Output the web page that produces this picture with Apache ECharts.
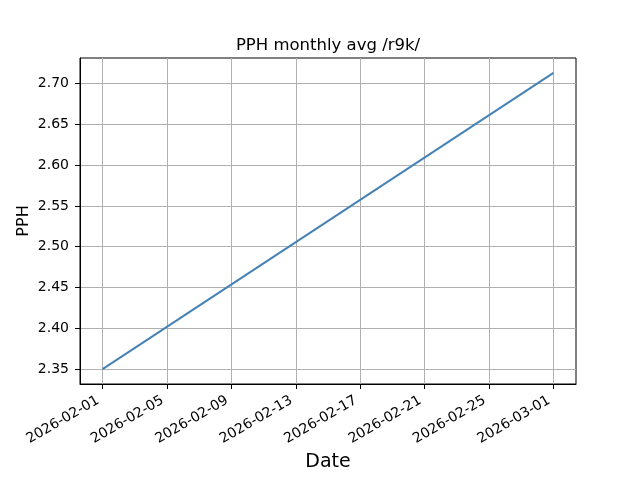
<!DOCTYPE html>
<html>
<head>
<meta charset="utf-8">
<script src="https://cdn.jsdelivr.net/npm/echarts@6/dist/echarts.min.js"></script>
<style>html,body{margin:0;padding:0;background:#fff}#c{width:640px;height:480px}</style>
</head>
<body>
<div id="c"></div>
<script>
const dates = ['2026-02-01', '2026-03-01'];
const pph = [2.3497, 2.7132];
const xTickDates = ['2026-02-01','2026-02-05','2026-02-09','2026-02-13','2026-02-17','2026-02-21','2026-02-25','2026-03-01'];
const yTicks = [2.35, 2.40, 2.45, 2.50, 2.55, 2.60, 2.65, 2.70];
const titleText = 'PPH monthly avg /r9k/';

function ts(s){ const p = s.split('-').map(Number); return Date.UTC(p[0], p[1]-1, p[2]); }
function fmt(v){ const d = new Date(v); const z = n => String(n).padStart(2,'0'); return d.getUTCFullYear()+'-'+z(d.getUTCMonth()+1)+'-'+z(d.getUTCDate()); }

const xs = dates.map(ts);
const xSpan = xs[xs.length-1] - xs[0];
const xMin = xs[0] - 0.05*xSpan, xMax = xs[xs.length-1] + 0.05*xSpan;
const yLo = Math.min(...pph), yHi = Math.max(...pph), ySpan = yHi - yLo;
const yMin = yLo - 0.05*ySpan, yMax = yHi + 0.05*ySpan;
const xTicks = xTickDates.map(ts);

const font = 'DejaVu Sans';
const titleSize = 16.5;
const cv = document.createElement('canvas').getContext('2d');
cv.font = titleSize + 'px "' + font + '"';
const titleW = cv.measureText(titleText).width;

const chart = echarts.init(document.getElementById('c'), null, {renderer:'canvas'});
chart.setOption({
  animation: false,
  backgroundColor: '#fff',
  title: {
    text: titleText,
    left: 328 - titleW/2 - 5, top: 32,
    textStyle: {fontFamily: font, fontSize: titleSize, fontWeight: 'normal', color: '#000'}
  },
  grid: {left: 80, right: 64, top: 58, bottom: 96, show: true, borderColor: '#000', borderWidth: 1, containLabel: false},
  xAxis: {
    type: 'value', min: xMin, max: xMax,
    name: 'Date', nameLocation: 'middle', nameGap: 67,
    nameTextStyle: {fontFamily: font, fontSize: 19, color: '#000'},
    axisLine: {show: true, onZero: false, lineStyle: {color: '#000', width: 1}},
    axisTick: {show: true, length: 5, inside: false, customValues: xTicks, lineStyle: {color: '#000'}},
    axisLabel: {customValues: xTicks, rotate: 30, margin: 13, padding: [0, 5, 0, 0], formatter: v => fmt(v),
      fontFamily: font, fontSize: 14, color: '#000'},
    splitLine: {show: true, lineStyle: {color: '#b0b0b0', width: 1}}
  },
  yAxis: {
    type: 'value', min: yMin, max: yMax,
    name: 'PPH', nameLocation: 'middle', nameGap: 48, nameRotate: 90, nameMoveOverlap: false,
    nameTextStyle: {fontFamily: font, fontSize: 16, color: '#000'},
    axisLine: {show: true, onZero: false, lineStyle: {color: '#000', width: 1}},
    axisTick: {show: true, length: 5, inside: false, customValues: yTicks, lineStyle: {color: '#000'}},
    axisLabel: {customValues: yTicks, margin: 11, formatter: v => v.toFixed(2),
      fontFamily: font, fontSize: 14, color: '#000'},
    splitLine: {show: true, lineStyle: {color: '#b0b0b0', width: 1}}
  },
  series: [{
    type: 'line',
    data: xs.map((x,i) => [x, pph[i]]),
    showSymbol: false,
    lineStyle: {color: '#4682b4', width: 2},
    itemStyle: {color: '#4682b4'}
  }]
});
</script>
</body>
</html>
